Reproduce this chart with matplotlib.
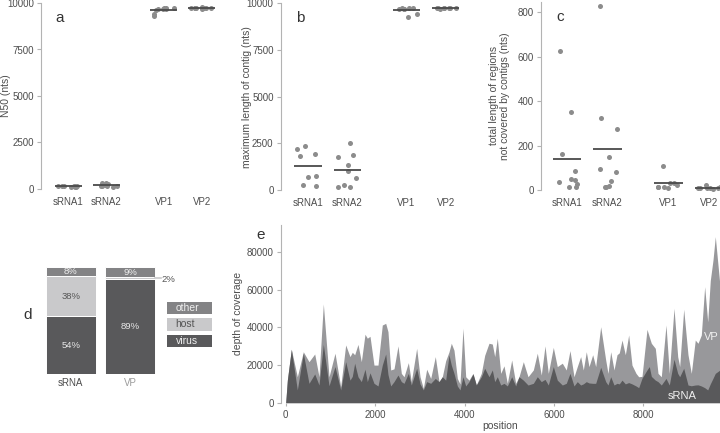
import numpy as np
import matplotlib
matplotlib.use("Agg")
import matplotlib.pyplot as plt
from matplotlib.patches import Rectangle

plt.rcParams['font.family'] = ['Liberation Sans', 'DejaVu Sans']

# --- panels a-c: per-library assembly stats ---
samples = ["sRNA1", "sRNA2", "VP1", "VP2"]

n50_srna1 = [120, 150, 180, 140, 160, 130, 170, 110, 150]
n50_srna2 = [330, 300, 180, 150, 200, 170, 250, 160, 120]
n50_vp1 = [9700, 9750, 9700, 9650, 9750, 9420, 9280, 9720, 9680]
n50_vp2 = [9720, 9740, 9700, 9760, 9730, 9710, 9750, 9720, 9740]

maxlen_srna1 = [2350, 2200, 1950, 1820, 290, 210, 710, 730]
maxlen_srna2 = [2500, 1900, 1750, 1320, 1000, 630, 250, 170, 170]
maxlen_vp1 = [9700, 9750, 9720, 9760, 9700, 9450, 9250, 9730]
maxlen_vp2 = [9740, 9750, 9730, 9760, 9720, 9740, 9750, 9730]

gap_srna1 = [623, 351, 164, 86, 50, 36, 45, 29, 12, 15]
gap_srna2 = [826, 326, 275, 149, 93, 80, 40, 18, 15, 14]
gap_vp1 = [108, 12, 21, 10, 33, 15, 30, 12]
gap_vp2 = [22, 10, 8, 12, 6, 9, 11, 7]

# --- panel d: read composition (%) ---
libraries = ["sRNA", "VP"]
pct_virus = [54, 89]
pct_host = [38, 2]
pct_other = [8, 9]

# --- panel e: depth of coverage along genome ---
position = [0, 37, 126, 260, 394, 521, 649, 745, 842, 969, 1103, 1230, 1342,
            1438, 1490, 1543, 1617, 1692, 1774, 1826, 1886, 1975, 2065, 2161,
            2237, 2288, 2349, 2423, 2512, 2587, 2647, 2744, 2810, 2930, 3005,
            3079, 3154, 3244, 3347, 3430, 3504, 3579, 3653, 3705, 3765, 3840,
            3899, 3966, 4027, 4101, 4190, 4264, 4376, 4452, 4548, 4622, 4676,
            4734, 4810, 4884, 4958, 5056, 5145, 5219, 5316, 5421, 5540, 5629,
            5718, 5801, 5875, 5987, 6076, 6188, 6277, 6360, 6450, 6523, 6599,
            6658, 6725, 6785, 6868, 6935, 7047, 7159, 7210, 7271, 7345, 7412,
            7463, 7524, 7598, 7673, 7747, 7837, 7897, 7971, 8083, 8134, 8180,
            8269, 8329, 8403, 8508, 8582, 8687, 8770, 8814, 8904, 9000, 9074,
            9163, 9224, 9298, 9373, 9441, 9499, 9560, 9611, 9716]
depth_vp = [0, 12000, 28400, 13800, 27100, 21800, 25900, 13800, 52500, 13800,
            26300, 8500, 30700, 24500, 26800, 25500, 31000, 21800, 36400, 34300,
            35300, 20000, 20000, 41300, 42200, 37800, 17400, 18000, 30200, 15600,
            13800, 21300, 11200, 28900, 13800, 7600, 17800, 12900, 24500, 11200,
            13800, 22300, 27000, 31600, 27900, 12900, 10000, 39600, 13800, 12000,
            15600, 9400, 15600, 25200, 31600, 31200, 24500, 34300, 15600, 19600,
            10300, 22700, 10300, 13800, 21800, 13800, 17400, 26300, 14700, 30200,
            15600, 29400, 19200, 21000, 17400, 27700, 13800, 19200, 24500, 17400,
            27100, 19200, 25500, 19200, 40400, 22700, 15600, 27100, 17400, 25500,
            26500, 33300, 25500, 36000, 20000, 15600, 13800, 14000, 39000, 35000,
            31600, 28900, 15600, 13800, 41300, 15600, 50200, 24500, 19200, 49700,
            25500, 15600, 33300, 31600, 36000, 61700, 43000, 65000, 76000, 88300,
            62000]
depth_srna = [0, 12000, 28400, 6800, 26300, 10300, 15300, 9400, 31000, 9000,
              19200, 6800, 21800, 12000, 14000, 21000, 13800, 11200, 17800,
              11200, 15900, 10300, 8900, 20000, 25900, 15000, 8900, 11200,
              14700, 11200, 10300, 15600, 9400, 18300, 10000, 6800, 11200,
              10300, 12900, 11200, 13800, 12000, 25400, 20000, 15600, 8900,
              6800, 13800, 8900, 11200, 15300, 9400, 13800, 18300, 13800,
              17400, 11200, 13800, 9400, 10300, 8900, 13800, 8900, 13800,
              12000, 9400, 10300, 13800, 11200, 12400, 9400, 19200, 12000,
              9400, 10300, 15600, 8900, 11200, 9400, 10000, 11200, 10500,
              10300, 10300, 18800, 11200, 9400, 13800, 9400, 10300, 10000,
              12000, 10000, 10700, 10000, 8900, 8000, 13000, 17400, 19200,
              14000, 12000, 11200, 9400, 12900, 9400, 23100, 15600, 13800,
              18300, 9400, 9000, 9400, 9500, 8900, 8000, 6800, 10000, 13000,
              15600, 17400]

W, H = 720, 433
TXT = '#4d4d4d'
SPINE = '#b3b3b3'
PT = '#8c8c8c'


def box(left, right, top, bottom):
    return [left / W, 1 - bottom / H, (right - left) / W, (bottom - top) / H]


def style(ax):
    for s in ['top', 'right', 'bottom']:
        ax.spines[s].set_visible(False)
    ax.spines['left'].set_color(SPINE)
    ax.spines['left'].set_linewidth(0.8)
    ax.tick_params(axis='y', colors=SPINE, labelcolor=TXT, labelsize=7,
                   length=3, width=0.8, pad=2)
    ax.tick_params(axis='x', colors=SPINE, labelcolor=TXT, labelsize=7,
                   length=0, pad=6)


fig = plt.figure(figsize=(7.2, 4.33), dpi=100)

xpos = [1, 2, 3.5, 4.5]
rng = np.random.default_rng(7)

top_panels = [
    (box(41, 216, 3, 189), [n50_srna1, n50_srna2, n50_vp1, n50_vp2],
     (0.283, 4.875), (0, 10000), [0, 2500, 5000, 7500, 10000],
     'N50 (nts)', 'a', -0.172),
    (box(280.5, 461, 3.3, 190), [maxlen_srna1, maxlen_srna2, maxlen_vp1, maxlen_vp2],
     (0.30, 4.89), (0, 10000), [0, 2500, 5000, 7500, 10000],
     'maximum length of contig (nts)', 'b', -0.158),
    (box(541, 720, 1.7, 190), [gap_srna1, gap_srna2, gap_vp1, gap_vp2],
     (0.36, 4.77), (0, 847), [0, 200, 400, 600, 800],
     'total length of regions\nnot covered by contigs (nts)', 'c', -0.173),
]

for rect, groups, xl, yl, yt, ylab, letter, labx in top_panels:
    ax = fig.add_axes(rect)
    style(ax)
    for x, vals in zip(xpos, groups):
        jit = rng.uniform(-0.28, 0.28, len(vals))
        ax.scatter(x + jit, vals, s=13, color=PT, linewidths=0, zorder=3,
                   clip_on=False)
        m = np.mean(vals)
        ax.plot([x - 0.35, x + 0.35], [m, m], color='#4a4a4a', lw=1.3,
                zorder=4, solid_capstyle='butt')
    ax.set_xlim(*xl)
    ax.set_ylim(*yl)
    ax.set_yticks(yt)
    ax.set_yticklabels([str(t) for t in yt])
    ax.set_xticks(xpos)
    ax.set_xticklabels(samples)
    ax.set_ylabel(ylab, color=TXT, fontsize=7.5, linespacing=1.1)
    ax.yaxis.set_label_coords(labx, 0.5)
    ax.text(0.085, 0.9, letter, transform=ax.transAxes, fontsize=11,
            color='#333333')

# --- panel d ---
axd = fig.add_axes(box(35.2, 213, 267.3, 374))
axd.set_xlim(-0.6, 2.4)
axd.set_ylim(0, 100)
axd.axis('off')
c_virus, c_host, c_other = '#59595b', '#c9c9cb', '#838385'
xb = np.arange(len(libraries))
bottom_host = np.array(pct_virus)
bottom_other = bottom_host + np.array(pct_host)
axd.bar(xb, pct_virus, width=0.84, color=c_virus, edgecolor='white', lw=0.7)
axd.bar(xb, pct_host, width=0.84, bottom=bottom_host, color=c_host,
        edgecolor='white', lw=0.7)
axd.bar(xb, pct_other, width=0.84, bottom=bottom_other, color=c_other,
        edgecolor='white', lw=0.7)
for i in xb:
    axd.text(i, pct_virus[i] / 2, f'{pct_virus[i]}%', ha='center',
             va='center', color='#e8e8e8', fontsize=6.8)
    axd.text(i, bottom_other[i] + pct_other[i] / 2, f'{pct_other[i]}%',
             ha='center', va='center', color='#f0f0f0', fontsize=6.8)
    if pct_host[i] > 10:
        axd.text(i, bottom_host[i] + pct_host[i] / 2, f'{pct_host[i]}%',
                 ha='center', va='center', color='#555555', fontsize=6.8)
    else:
        yh = bottom_host[i] + pct_host[i] / 2
        axd.plot([i + 0.42, i + 0.52], [yh, yh], color=c_host, lw=1.2,
                 clip_on=False)
        axd.text(i + 0.53, yh - 1, f'{pct_host[i]}%', ha='left',
                 va='center', color='#555555', fontsize=6.8)
for i, (lab, col) in enumerate(zip(libraries, ['#4d4d4d', '#9a9a9a'])):
    axd.text(i, -4, lab, ha='center', va='top', color=col, fontsize=7)
axd.text(-0.72, 55, 'd', ha='center', va='center', fontsize=11,
         color='#333333')
# legend boxes with text inside
leg = [('other', c_other, '#f0f0f0'), ('host', c_host, '#555555'),
       ('virus', c_virus, '#f0f0f0')]
for k, (lab, col, tcol) in enumerate(leg):
    y0 = 1 - (301.7 - 267.3) / 106.7 - k * (16.5 / 106.7)
    r = Rectangle((1.62, (y0 - 12.5 / 106.7) * 100), 0.77, 12.5 / 106.7 * 100,
                  facecolor=col, edgecolor='none', clip_on=False)
    axd.add_patch(r)
    axd.text(1.77, (y0 - 6.25 / 106.7) * 100, lab, ha='left', va='center',
             color=tcol, fontsize=7.5)

# --- panel e ---
axe = fig.add_axes(box(280.7, 720, 225, 402.7))
style(axe)
axe.tick_params(axis='x', length=2, pad=3)
axe.fill_between(position, depth_vp, color='#98989b', lw=0)
axe.fill_between(position, depth_srna, color='#59595b', lw=0)
axe.set_xlim(-112, 9716)
axe.set_ylim(0, 94500)
axe.set_xticks([0, 2000, 4000, 6000, 8000])
axe.set_yticks([0, 20000, 40000, 60000, 80000])
axe.set_xlabel('position', color=TXT, fontsize=7.5, labelpad=1)
axe.set_ylabel('depth of coverage', color=TXT, fontsize=7.5)
axe.yaxis.set_label_coords(-0.086, 0.5)
axe.text(-0.055, 0.985, 'e', transform=axe.transAxes, fontsize=11,
         color='#333333', ha='left', va='top')
axe.text(9690, 35000, 'VP', color='#f0f0f0', fontsize=8, ha='right',
         va='center')
axe.text(8870, 3500, 'sRNA', color='#f0f0f0', fontsize=8, ha='center',
         va='center')

fig.savefig('out.png', dpi=100)
